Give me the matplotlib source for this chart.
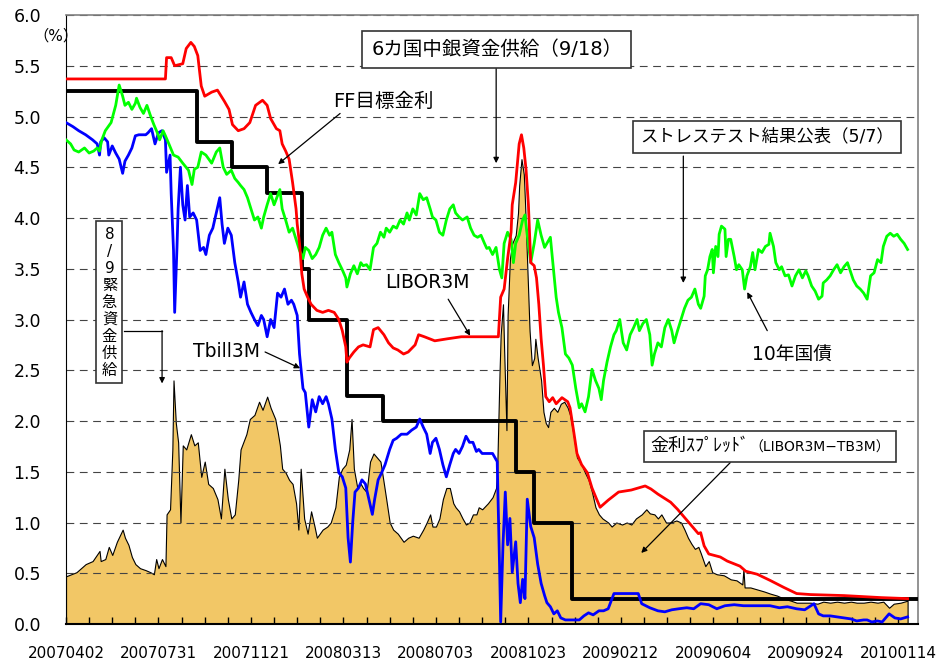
import matplotlib.pyplot as plt
from matplotlib.offsetbox import TextArea, HPacker, AnnotationBbox

# 横軸は営業日の通し番号 (0 = 20070402, 80日ごとにラベル)
date_labels = ['20070402', '20070731', '20071121', '20080313', '20080703',
               '20081023', '20090212', '20090604', '20090924', '20100114']

# FF目標金利 (変更日の通し番号, 水準)
ff_day = [0, 113, 144, 174, 204, 210, 243, 274, 389, 405, 438]
ff_rate = [5.25, 4.75, 4.50, 4.25, 3.50, 3.00, 2.25, 2.00, 1.50, 1.00, 0.25]

# LIBOR3M (day, %)
libor_pts = [
    (0, 5.37), (86, 5.37), (87, 5.58), (91, 5.58), (94, 5.50), (101, 5.52), (104, 5.67),
    (108, 5.73), (111, 5.69), (114, 5.60), (117, 5.30), (120, 5.20), (126, 5.24), (131, 5.26),
    (137, 5.15), (141, 5.07), (144, 4.92), (149, 4.86), (154, 4.88), (159, 4.94), (164, 5.11),
    (170, 5.16), (174, 5.11), (177, 4.98), (182, 4.88), (185, 4.86), (187, 4.73), (190, 4.66),
    (193, 4.58), (196, 4.35), (199, 4.09), (200, 3.94), (202, 3.75), (204, 3.45), (206, 3.30),
    (209, 3.22), (212, 3.15), (217, 3.09), (222, 3.07), (227, 3.09), (232, 3.07), (236, 3.00),
    (239, 2.89), (242, 2.73), (243, 2.58), (245, 2.62), (249, 2.68), (253, 2.73), (257, 2.75),
    (263, 2.73), (266, 2.90), (270, 2.92), (275, 2.85), (279, 2.77), (283, 2.72), (287, 2.70),
    (292, 2.66), (296, 2.68), (302, 2.75), (305, 2.85), (310, 2.83), (319, 2.79), (330, 2.81),
    (342, 2.83), (365, 2.83), (374, 2.83), (376, 3.22), (379, 3.30), (382, 3.60), (385, 3.86),
    (386, 4.13), (389, 4.35), (392, 4.73), (394, 4.82), (396, 4.69), (398, 4.47), (400, 4.13),
    (402, 3.56), (405, 3.53), (407, 3.41), (409, 3.15), (411, 2.81), (413, 2.55), (415, 2.24),
    (418, 2.19), (421, 2.23), (424, 2.17), (429, 2.23), (434, 2.19), (436, 2.13), (439, 1.91),
    (442, 1.68), (446, 1.57), (451, 1.49), (455, 1.34), (459, 1.23), (462, 1.15), (465, 1.18),
    (469, 1.22), (478, 1.30), (489, 1.32), (501, 1.36), (506, 1.33), (512, 1.28), (523, 1.20),
    (529, 1.13), (535, 1.05), (541, 0.97), (547, 0.89), (549, 0.90), (552, 0.77), (556, 0.69),
    (566, 0.66), (572, 0.62), (583, 0.57), (588, 0.52), (598, 0.49), (609, 0.43), (621, 0.36),
    (632, 0.30), (644, 0.29), (673, 0.28), (705, 0.26), (728, 0.25),
]

# Tbill3M (day, %)
tbill_pts = [
    (0, 4.94), (6, 4.90), (11, 4.86), (17, 4.82), (23, 4.77), (27, 4.73), (29, 4.62), (30, 4.75),
    (33, 4.79), (36, 4.75), (37, 4.62), (40, 4.71), (43, 4.64), (46, 4.58), (49, 4.44), (51, 4.56),
    (54, 4.62), (57, 4.69), (60, 4.81), (63, 4.82), (69, 4.82), (71, 4.84), (74, 4.88), (77, 4.73),
    (80, 4.84), (83, 4.86), (86, 4.77), (87, 4.45), (90, 4.62), (91, 4.24), (93, 3.68), (94, 3.07),
    (96, 3.71), (97, 4.09), (99, 4.50), (101, 4.13), (103, 3.98), (105, 4.32), (107, 4.01),
    (110, 4.05), (113, 3.98), (116, 3.68), (119, 3.71), (121, 3.64), (124, 3.83), (127, 3.90),
    (130, 4.05), (133, 4.20), (135, 3.94), (137, 3.75), (140, 3.90), (143, 3.83), (146, 3.56),
    (149, 3.37), (151, 3.22), (154, 3.37), (157, 3.15), (160, 3.07), (163, 3.00), (166, 2.94),
    (169, 3.04), (171, 3.00), (174, 2.83), (177, 3.00), (180, 2.92), (183, 3.26), (186, 3.22),
    (189, 3.30), (192, 3.15), (195, 3.19), (197, 3.15), (200, 3.04), (202, 2.66), (203, 2.55),
    (205, 2.32), (207, 2.28), (210, 1.94), (213, 2.21), (216, 2.09), (219, 2.24), (222, 2.17),
    (225, 2.24), (227, 2.17), (230, 2.02), (233, 1.72), (236, 1.49), (239, 1.45), (242, 1.34),
    (244, 0.85), (246, 0.61), (248, 1.00), (250, 1.30), (253, 1.34), (256, 1.42), (259, 1.38),
    (262, 1.23), (265, 1.08), (267, 1.23), (270, 1.42), (273, 1.49), (276, 1.57), (280, 1.72),
    (283, 1.81), (286, 1.83), (290, 1.87), (295, 1.87), (299, 1.91), (303, 1.94), (306, 2.02),
    (309, 1.94), (312, 1.87), (315, 1.68), (317, 1.79), (320, 1.83), (323, 1.72), (326, 1.57),
    (329, 1.45), (332, 1.57), (335, 1.68), (337, 1.72), (340, 1.68), (343, 1.75), (346, 1.85),
    (349, 1.79), (352, 1.79), (355, 1.70), (357, 1.72), (360, 1.68), (365, 1.68), (369, 1.68),
    (373, 1.60), (375, 0.59), (376, 0.02), (378, 0.78), (380, 1.30), (382, 0.78), (384, 1.04),
    (386, 0.51), (389, 0.81), (391, 0.40), (393, 0.21), (395, 0.44), (397, 0.25), (399, 1.23),
    (402, 0.96), (405, 0.85), (408, 0.59), (411, 0.40), (414, 0.28), (416, 0.21), (419, 0.17),
    (422, 0.10), (425, 0.13), (428, 0.06), (432, 0.04), (438, 0.04), (444, 0.04), (448, 0.08),
    (452, 0.11), (456, 0.09), (461, 0.13), (465, 0.13), (469, 0.15), (474, 0.30), (481, 0.30),
    (489, 0.30), (495, 0.30), (498, 0.20), (505, 0.16), (512, 0.13), (518, 0.12), (524, 0.14),
    (530, 0.15), (537, 0.16), (543, 0.15), (549, 0.20), (556, 0.19), (563, 0.15), (570, 0.18),
    (578, 0.19), (586, 0.18), (594, 0.18), (601, 0.18), (609, 0.18), (617, 0.16), (624, 0.17),
    (632, 0.15), (639, 0.14), (647, 0.20), (651, 0.10), (655, 0.08), (661, 0.08), (667, 0.07),
    (673, 0.06), (679, 0.05), (684, 0.03), (690, 0.04), (693, 0.04), (697, 0.02), (702, 0.03),
    (706, 0.02), (712, 0.10), (717, 0.06), (722, 0.05), (728, 0.07),
]

# 10年国債 (day, %)
tsy10_pts = [
    (0, 4.77), (4, 4.73), (7, 4.67), (11, 4.65), (16, 4.69), (20, 4.64), (24, 4.66), (27, 4.69),
    (29, 4.66), (31, 4.77), (34, 4.86), (39, 4.94), (43, 5.11), (46, 5.31), (49, 5.20), (51, 5.11),
    (54, 5.14), (57, 5.07), (60, 5.13), (61, 5.18), (64, 5.09), (67, 5.03), (70, 5.11), (73, 5.01),
    (76, 4.92), (79, 4.84), (81, 4.77), (84, 4.86), (86, 4.81), (89, 4.73), (93, 4.62), (97, 4.60),
    (101, 4.54), (106, 4.47), (109, 4.33), (111, 4.48), (114, 4.50), (117, 4.65), (121, 4.62),
    (126, 4.54), (130, 4.65), (133, 4.69), (136, 4.50), (139, 4.43), (143, 4.47), (146, 4.39),
    (149, 4.35), (151, 4.32), (154, 4.28), (157, 4.20), (160, 4.09), (163, 3.98), (166, 4.01),
    (169, 3.90), (171, 4.01), (174, 4.13), (177, 4.24), (180, 4.13), (183, 4.22), (185, 4.28),
    (187, 4.09), (190, 3.98), (193, 3.86), (196, 3.90), (199, 3.79), (202, 3.68), (205, 3.60),
    (207, 3.71), (210, 3.68), (213, 3.60), (216, 3.64), (219, 3.71), (222, 3.83), (225, 3.90),
    (228, 3.83), (230, 3.86), (233, 3.64), (236, 3.56), (239, 3.49), (242, 3.41), (243, 3.32),
    (246, 3.45), (249, 3.53), (252, 3.45), (255, 3.56), (257, 3.53), (260, 3.54), (263, 3.49),
    (266, 3.71), (269, 3.75), (272, 3.86), (275, 3.81), (277, 3.90), (280, 3.86), (283, 3.92),
    (286, 3.90), (289, 3.98), (292, 3.94), (295, 4.05), (297, 3.98), (300, 4.09), (303, 4.03),
    (306, 4.24), (309, 4.18), (312, 4.20), (315, 4.09), (317, 4.01), (320, 3.98), (323, 3.86),
    (326, 3.83), (329, 3.98), (332, 4.09), (335, 4.13), (337, 4.05), (340, 4.01), (343, 3.98),
    (347, 4.01), (350, 3.90), (353, 3.83), (356, 3.81), (359, 3.83), (362, 3.75), (364, 3.70),
    (366, 3.71), (369, 3.64), (372, 3.71), (375, 3.49), (377, 3.41), (379, 3.75), (382, 3.86),
    (385, 3.79), (387, 3.56), (389, 3.75), (392, 3.83), (395, 3.98), (397, 4.03), (399, 3.83),
    (402, 3.56), (405, 3.75), (408, 3.98), (411, 3.83), (414, 3.71), (416, 3.75), (419, 3.81),
    (422, 3.45), (424, 3.22), (426, 3.07), (429, 2.92), (432, 2.66), (435, 2.62), (438, 2.55),
    (441, 2.32), (444, 2.13), (446, 2.17), (449, 2.09), (452, 2.24), (455, 2.51), (458, 2.40),
    (461, 2.32), (463, 2.21), (465, 2.40), (468, 2.58), (471, 2.73), (474, 2.85), (476, 2.89),
    (479, 3.00), (482, 2.77), (485, 2.70), (488, 2.85), (491, 2.92), (494, 3.00), (496, 2.89),
    (499, 2.96), (502, 3.00), (505, 2.85), (507, 2.55), (509, 2.66), (512, 2.77), (515, 2.73),
    (518, 2.92), (521, 3.00), (524, 2.89), (526, 2.77), (529, 2.89), (532, 3.00), (535, 3.11),
    (538, 3.19), (541, 3.22), (544, 3.30), (547, 3.15), (549, 3.11), (552, 3.23), (553, 3.43),
    (555, 3.49), (557, 3.62), (559, 3.69), (560, 3.46), (562, 3.72), (564, 3.62), (565, 3.84),
    (567, 3.92), (570, 3.89), (571, 3.62), (573, 3.79), (575, 3.79), (578, 3.62), (580, 3.49),
    (582, 3.54), (585, 3.49), (587, 3.30), (589, 3.43), (592, 3.52), (594, 3.66), (596, 3.49),
    (599, 3.69), (602, 3.66), (605, 3.72), (608, 3.74), (609, 3.85), (612, 3.72), (614, 3.56),
    (617, 3.49), (619, 3.52), (622, 3.43), (625, 3.44), (628, 3.33), (631, 3.43), (634, 3.49),
    (637, 3.41), (640, 3.48), (642, 3.43), (645, 3.33), (648, 3.28), (651, 3.20), (654, 3.23),
    (655, 3.36), (658, 3.39), (661, 3.43), (664, 3.49), (667, 3.54), (670, 3.46), (673, 3.52),
    (676, 3.56), (679, 3.46), (681, 3.39), (684, 3.33), (687, 3.30), (690, 3.26), (693, 3.20),
    (696, 3.43), (699, 3.46), (702, 3.59), (705, 3.56), (707, 3.72), (710, 3.82), (713, 3.85),
    (716, 3.82), (719, 3.84), (722, 3.79), (725, 3.75), (728, 3.69),
]

# 金利スプレッド LIBOR3M-TB3M (day, %)
spread_pts = [
    (0, 0.47), (9, 0.51), (17, 0.59), (23, 0.62), (29, 0.72), (30, 0.62), (34, 0.64), (37, 0.76),
    (40, 0.68), (44, 0.81), (49, 0.93), (51, 0.85), (54, 0.78), (57, 0.66), (60, 0.59), (64, 0.55),
    (69, 0.53), (73, 0.51), (76, 0.49), (78, 0.64), (80, 0.55), (83, 0.64), (86, 0.57), (87, 1.08),
    (90, 1.13), (92, 1.72), (93, 2.40), (95, 1.98), (97, 1.79), (99, 1.00), (101, 1.76),
    (104, 1.72), (108, 1.87), (111, 1.76), (114, 1.79), (117, 1.45), (120, 1.60), (123, 1.38),
    (127, 1.34), (131, 1.23), (134, 1.04), (137, 1.53), (140, 1.23), (143, 1.04), (146, 1.08),
    (149, 1.42), (151, 1.72), (156, 1.87), (159, 2.02), (163, 2.06), (167, 2.19), (170, 2.11),
    (174, 2.24), (177, 2.13), (181, 2.02), (183, 1.90), (185, 1.76), (187, 1.53), (190, 1.49),
    (193, 1.42), (196, 1.38), (199, 1.19), (201, 0.93), (203, 1.53), (206, 1.04), (209, 0.89),
    (212, 1.11), (215, 0.96), (217, 0.85), (222, 0.93), (226, 0.96), (229, 1.00), (233, 1.15),
    (236, 1.45), (239, 1.53), (242, 1.57), (245, 1.72), (247, 2.02), (249, 1.53), (252, 1.34),
    (255, 1.38), (257, 1.34), (260, 1.30), (263, 1.60), (266, 1.68), (269, 1.64), (272, 1.60),
    (275, 1.38), (277, 1.23), (280, 1.00), (283, 0.93), (287, 0.89), (292, 0.81), (296, 0.85),
    (300, 0.87), (305, 0.85), (309, 0.93), (312, 1.00), (315, 1.08), (317, 0.96), (320, 0.96),
    (323, 1.04), (326, 1.23), (329, 1.34), (332, 1.34), (335, 1.19), (337, 1.15), (340, 1.11),
    (343, 1.04), (346, 0.98), (349, 1.00), (352, 1.08), (355, 1.08), (357, 1.15), (360, 1.13),
    (365, 1.19), (369, 1.25), (372, 1.34), (373, 1.53), (375, 2.47), (376, 2.85), (378, 3.15),
    (379, 2.70), (381, 1.91), (382, 3.04), (384, 3.60), (386, 3.75), (389, 3.83), (391, 4.05),
    (392, 4.32), (394, 4.58), (396, 4.43), (397, 4.17), (399, 3.53), (401, 2.89), (403, 2.55),
    (405, 2.62), (406, 2.81), (408, 2.62), (411, 2.40), (413, 2.09), (415, 1.98), (417, 1.94),
    (419, 2.09), (422, 2.13), (425, 2.09), (428, 2.17), (431, 2.19), (434, 2.13), (436, 2.06),
    (439, 1.87), (442, 1.64), (446, 1.57), (449, 1.49), (452, 1.42), (455, 1.30), (458, 1.15),
    (461, 1.08), (464, 1.04), (469, 1.00), (472, 0.96), (476, 1.00), (481, 0.98), (485, 1.00),
    (489, 0.98), (493, 1.04), (498, 1.08), (502, 1.13), (505, 1.09), (509, 1.08), (512, 1.04),
    (515, 1.08), (519, 1.00), (523, 1.00), (528, 1.02), (532, 1.00), (535, 0.93), (538, 0.85),
    (541, 0.79), (544, 0.74), (547, 0.76), (549, 0.70), (553, 0.57), (556, 0.62), (559, 0.51),
    (563, 0.49), (569, 0.48), (575, 0.44), (580, 0.43), (585, 0.39), (586, 0.54), (587, 0.36),
    (592, 0.36), (598, 0.34), (604, 0.32), (609, 0.30), (615, 0.28), (621, 0.25), (627, 0.23),
    (632, 0.21), (638, 0.21), (644, 0.21), (650, 0.20), (655, 0.22), (661, 0.21), (667, 0.22),
    (673, 0.21), (679, 0.22), (684, 0.21), (690, 0.21), (696, 0.22), (702, 0.21), (707, 0.22),
    (712, 0.16), (716, 0.20), (722, 0.21), (728, 0.23),
]

X_MAX = 737

plt.rcParams['font.family'] = ['DejaVu Sans', 'Noto Sans CJK JP']

fig = plt.figure(figsize=(9.45, 6.62), dpi=100)
ax = fig.add_axes([66 / 945, 1 - 624 / 662, 852 / 945, 609 / 662])


def split(pts):
    return [p[0] for p in pts], [p[1] for p in pts]


sp_x, sp_y = split(spread_pts)
ax.fill_between(sp_x, sp_y, 0, facecolor='#F2C766', edgecolor='black', lw=0.8, zorder=1)

ff_x = ff_day + [X_MAX]
ff_y = ff_rate + [ff_rate[-1]]
ax.plot(ff_x, ff_y, drawstyle='steps-post', color='black', lw=2.8, zorder=3)

tb_x, tb_y = split(tbill_pts)
ax.plot(tb_x, tb_y, color='#0000FF', lw=2.0, zorder=4)
ty_x, ty_y = split(tsy10_pts)
ax.plot(ty_x, ty_y, color='#00FF00', lw=2.0, zorder=5)
lb_x, lb_y = split(libor_pts)
ax.plot(lb_x, lb_y, color='#FF0000', lw=2.0, zorder=6)

ax.set_xlim(0, X_MAX)
ax.set_ylim(0, 6)
ax.set_yticks([i * 0.5 for i in range(13)])
ax.set_yticklabels([f'{i * 0.5:.1f}' for i in range(13)])
ax.set_xticks(range(0, 721, 80))
ax.set_xticklabels(date_labels)
ax.set_xticks(range(0, X_MAX, 20), minor=True)
ax.tick_params(axis='x', which='both', direction='in', length=5, width=1, pad=16, labelsize=11)
ax.tick_params(axis='y', length=0, pad=18, labelsize=12.5)

ax.set_axisbelow('line')
ax.yaxis.grid(True, color='#444444', lw=0.8, ls=(0, (7, 5)))

for side in ['top', 'right']:
    ax.spines[side].set_color('#808080')
    ax.spines[side].set_linewidth(1.2)
ax.spines['left'].set_color('black')
ax.spines['bottom'].set_color('black')
ax.spines['bottom'].set_linewidth(1.5)

fig.text(56 / 945, 1 - 36 / 662, '（%）', ha='center', va='center', fontsize=11)

arrow = dict(arrowstyle='-|>', color='black', lw=0.9, mutation_scale=8, shrinkA=0, shrinkB=0)
box = dict(boxstyle='square,pad=0.45', facecolor='white', edgecolor='#333333', lw=1.2)


def pointer(tail, head):
    ax.annotate('', xy=head, xytext=tail, arrowprops=arrow, zorder=8)


# 注記
ax.text(372.6, 5.66, '6カ国中銀資金供給（9/18）', ha='center', va='center', fontsize=14,
        bbox=box, zorder=9)
pointer((372.1, 5.48), (372.1, 4.54))

ax.text(606.2, 4.80, 'ストレステスト結果公表（5/7）', ha='center', va='center', fontsize=12.5,
        bbox=dict(box, boxstyle='square,pad=0.4'), zorder=9)
pointer((534, 4.61), (534, 3.36))

ax.text(37.6, 3.17, '8\n/\n9\n緊\n急\n資\n金\n供\n給', ha='center', va='center', fontsize=11,
        linespacing=1.17, bbox=dict(box, boxstyle='square,pad=0.35'), zorder=9)
ax.plot([50.2, 83.1], [2.89, 2.89], color='black', lw=0.9, zorder=8)
pointer((83.1, 2.89), (83.1, 2.37))

ax.text(274.3, 5.15, 'FF目標金利', ha='center', va='center', fontsize=14, zorder=9)
pointer((237.1, 5.03), (183.5, 4.53))

ax.text(312.4, 3.36, 'LIBOR3M', ha='center', va='center', fontsize=13.5, zorder=9)
pointer((330.6, 3.20), (349.6, 2.84))

ax.text(138.5, 2.68, 'Tbill3M', ha='center', va='center', fontsize=13.5, zorder=9)
pointer((172.2, 2.68), (202.5, 2.52))

ax.text(628.3, 2.66, '10年国債', ha='center', va='center', fontsize=13.5, zorder=9)
pointer((606.6, 2.89), (589.3, 3.27))

spread_label = HPacker(children=[TextArea('金利ｽﾌﾟﾚｯﾄﾞ', textprops=dict(size=13)),
                                 TextArea('（LIBOR3M−TB3M）', textprops=dict(size=10))],
                       align='baseline', pad=0, sep=0)
ab = AnnotationBbox(spread_label, (609.2, 1.75), xycoords='data', frameon=True, pad=0.45,
                    bboxprops=dict(facecolor='white', edgecolor='#333333', lw=1.2), zorder=9)
ax.add_artist(ab)
pointer((574.6, 1.59), (497.6, 0.70))

fig.savefig('out.png', dpi=100)
